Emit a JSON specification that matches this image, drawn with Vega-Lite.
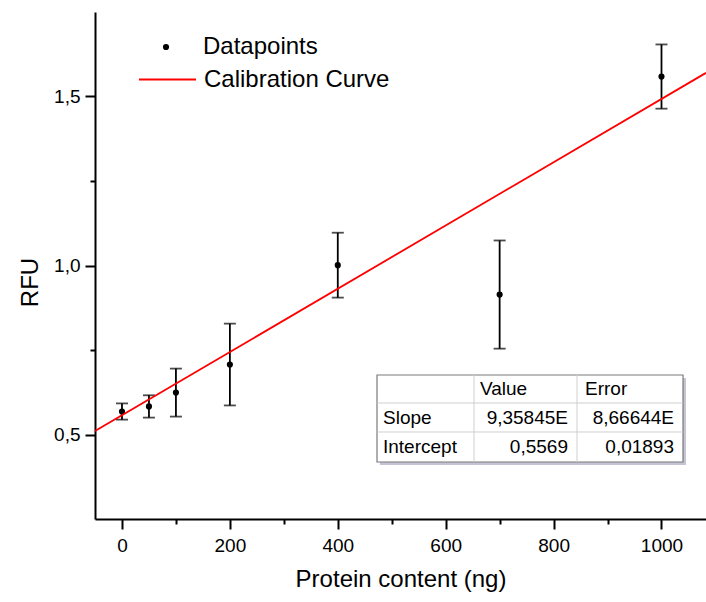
{
  "$schema": "https://vega.github.io/schema/vega-lite/v6.json",
  "autosize": {"type": "none"},
  "padding": {"left": 95, "top": 12, "right": 0, "bottom": 83},
  "width": 611,
  "height": 507,
  "background": "white",
  "config": {
    "view": {"stroke": null},
    "font": "Liberation Sans",
    "axis": {
      "grid": false,
      "domainColor": "black",
      "tickColor": "black",
      "labelColor": "black",
      "titleColor": "black",
      "domainWidth": 2,
      "tickWidth": 2,
      "labelFont": "Liberation Sans",
      "titleFont": "Liberation Sans",
      "titleFontWeight": "normal"
    },
    "legend": {"padding": 0}
  },
  "layer": [
    {
      "data": {"values": [
        {"conc": 0, "rfu": 0.568, "err": 0.024, "series": "Datapoints"},
        {"conc": 50, "rfu": 0.583, "err": 0.033, "series": "Datapoints"},
        {"conc": 100, "rfu": 0.624, "err": 0.071, "series": "Datapoints"},
        {"conc": 200, "rfu": 0.707, "err": 0.121, "series": "Datapoints"},
        {"conc": 400, "rfu": 1.001, "err": 0.096, "series": "Datapoints"},
        {"conc": 700, "rfu": 0.914, "err": 0.160, "series": "Datapoints"},
        {"conc": 1000, "rfu": 1.559, "err": 0.095, "series": "Datapoints"}
      ]},
      "layer": [
        {
          "mark": {"type": "errorbar", "ticks": {"size": 12, "thickness": 1.8}, "thickness": 1.8, "color": "black"},
          "encoding": {
            "x": {"field": "conc", "type": "quantitative", "title": "Protein content (ng)"},
            "y": {"field": "rfu", "type": "quantitative", "title": "RFU"},
            "yError": {"field": "err"}
          }
        },
        {
          "mark": {"type": "point", "filled": true, "size": 38, "opacity": 1},
          "encoding": {
            "x": {
              "field": "conc", "type": "quantitative",
              "scale": {"domain": [-50, 1082.5], "nice": false, "zero": false},
              "axis": {
                "title": "Protein content (ng)",
                "values": [0, 100, 200, 300, 400, 500, 600, 700, 800, 900, 1000],
                "tickSize": {"condition": {"test": "datum.value % 200 === 0", "value": 10}, "value": 5},
                "labelExpr": "datum.value % 200 === 0 ? format(datum.value, 'd') : ''",
                "labelFontSize": 19,
                "labelPadding": 7,
                "titleFontSize": 24,
                "titlePadding": 12,
                "labelFlush": false,
                "labelOverlap": false
              }
            },
            "y": {
              "field": "rfu", "type": "quantitative",
              "scale": {"domain": [0.25, 1.75], "nice": false, "zero": false},
              "axis": {
                "title": "RFU",
                "values": [0.5, 0.75, 1, 1.25, 1.5],
                "tickSize": {"condition": {"test": "abs(datum.value * 2 - round(datum.value * 2)) < 0.001", "value": 10}, "value": 5},
                "labelExpr": "abs(datum.value * 2 - round(datum.value * 2)) < 0.001 ? replace(format(datum.value, '.1f'), '.', ',') : ''",
                "labelFontSize": 19,
                "labelPadding": 5,
                "titleFontSize": 24,
                "titlePadding": 11,
                "titleY": 270,
                "labelFlush": false,
                "labelOverlap": false
              }
            },
            "color": {
              "field": "series", "type": "nominal",
              "scale": {"domain": ["Datapoints"], "range": ["black"]},
              "legend": {
                "orient": "none",
                "legendX": 59,
                "legendY": 23,
                "title": null,
                "labelFontSize": 24,
                "labelFont": "Liberation Sans",
                "labelColor": "black",
                "symbolType": "circle",
                "symbolSize": 38,
                "labelOffset": 25,
                "labelLimit": 400
              }
            }
          }
        }
      ]
    },
    {
      "data": {"values": [
        {"conc": -50, "rfu": 0.5101, "series": "Calibration Curve"},
        {"conc": 1082.5, "rfu": 1.5700, "series": "Calibration Curve"}
      ]},
      "mark": {"type": "line", "strokeWidth": 1.8},
      "encoding": {
        "x": {"field": "conc", "type": "quantitative"},
        "y": {"field": "rfu", "type": "quantitative"},
        "stroke": {
          "field": "series", "type": "nominal",
          "scale": {"domain": ["Calibration Curve"], "range": ["#ff0000"]},
          "legend": {
            "orient": "none",
            "legendX": 43,
            "legendY": 38,
            "title": null,
            "labelFontSize": 24,
            "labelFont": "Liberation Sans",
            "labelColor": "black",
            "symbolType": "stroke",
            "symbolSize": 3249,
            "symbolStrokeWidth": 1.8,
            "labelOffset": 7,
            "labelLimit": 400
          }
        }
      }
    },
    {
      "data": {"values": [{}]},
      "layer": [
        {
          "mark": {"type": "rect", "fill": "#c4c4d4"},
          "encoding": {
            "x": {"datum": 478}, "x2": {"datum": 1045.4},
            "y": {"datum": 0.4098}, "y2": {"datum": 0.667}
          }
        },
        {
          "mark": {"type": "rect", "fill": "white", "stroke": "#7a7a7a", "strokeWidth": 1.2},
          "encoding": {
            "x": {"datum": 472.7}, "x2": {"datum": 1039.9},
            "y": {"datum": 0.4186}, "y2": {"datum": 0.6760}
          }
        },
        {
          "mark": {"type": "rule", "color": "#cfcfcf", "strokeWidth": 1},
          "encoding": {"x": {"datum": 472.7}, "x2": {"datum": 1039.9}, "y": {"datum": 0.5932}}
        },
        {
          "mark": {"type": "rule", "color": "#cfcfcf", "strokeWidth": 1},
          "encoding": {"x": {"datum": 472.7}, "x2": {"datum": 1039.9}, "y": {"datum": 0.5074}}
        },
        {
          "mark": {"type": "rule", "color": "#cfcfcf", "strokeWidth": 1},
          "encoding": {"x": {"datum": 652.5}, "y": {"datum": 0.4186}, "y2": {"datum": 0.6760}}
        },
        {
          "mark": {"type": "rule", "color": "#cfcfcf", "strokeWidth": 1},
          "encoding": {"x": {"datum": 843.4}, "y": {"datum": 0.4186}, "y2": {"datum": 0.6760}}
        },
        {
          "mark": {"type": "text", "align": "left", "baseline": "middle", "fontSize": 19, "color": "black", "text": "Value"},
          "encoding": {"x": {"datum": 663.6}, "y": {"datum": 0.6346}}
        },
        {
          "mark": {"type": "text", "align": "left", "baseline": "middle", "fontSize": 19, "color": "black", "text": "Error"},
          "encoding": {"x": {"datum": 858.2}, "y": {"datum": 0.6346}}
        },
        {
          "mark": {"type": "text", "align": "left", "baseline": "middle", "fontSize": 19, "color": "black", "text": "Slope"},
          "encoding": {"x": {"datum": 483.8}, "y": {"datum": 0.5488}}
        },
        {
          "mark": {"type": "text", "align": "left", "baseline": "middle", "fontSize": 19, "color": "black", "text": "Intercept"},
          "encoding": {"x": {"datum": 483.8}, "y": {"datum": 0.4630}}
        },
        {
          "mark": {"type": "text", "align": "right", "baseline": "middle", "fontSize": 19, "color": "black", "text": "9,35845E"},
          "encoding": {"x": {"datum": 826.7}, "y": {"datum": 0.5488}}
        },
        {
          "mark": {"type": "text", "align": "right", "baseline": "middle", "fontSize": 19, "color": "black", "text": "8,66644E"},
          "encoding": {"x": {"datum": 1023.2}, "y": {"datum": 0.5488}}
        },
        {
          "mark": {"type": "text", "align": "right", "baseline": "middle", "fontSize": 19, "color": "black", "text": "0,5569"},
          "encoding": {"x": {"datum": 826.7}, "y": {"datum": 0.4630}}
        },
        {
          "mark": {"type": "text", "align": "right", "baseline": "middle", "fontSize": 19, "color": "black", "text": "0,01893"},
          "encoding": {"x": {"datum": 1023.2}, "y": {"datum": 0.4630}}
        }
      ]
    }
  ]
}
